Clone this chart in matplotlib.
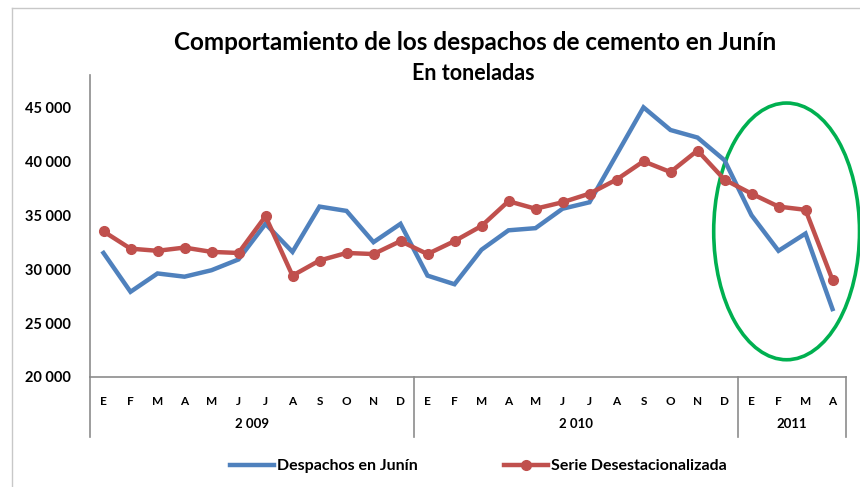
import numpy as np
import matplotlib
matplotlib.use("Agg")
import matplotlib.pyplot as plt
from matplotlib.patches import Ellipse
from matplotlib.lines import Line2D
import matplotlib.transforms as mtrans

plt.rcParams['font.family'] = ['Lato', 'DejaVu Sans']

# datos (toneladas)
meses = ['E', 'F', 'M', 'A', 'M', 'J', 'J', 'A', 'S', 'O', 'N', 'D',
         'E', 'F', 'M', 'A', 'M', 'J', 'J', 'A', 'S', 'O', 'N', 'D',
         'E', 'F', 'M', 'A']
anios = ['2 009', '2 010', '2011']
meses_por_anio = [12, 12, 4]

despachos = [31500, 27900, 29600, 29300, 29900, 30900, 34200, 31600, 35800, 35400, 32500, 34200,
             29400, 28600, 31800, 33600, 33800, 35600, 36200, 40600, 45000, 42900, 42200, 40100,
             35000, 31700, 33300, 26300]
desestacionalizada = [33500, 31900, 31700, 32000, 31600, 31500, 34900, 29400, 30800, 31500, 31400, 32600,
                      31400, 32600, 34000, 36300, 35600, 36200, 37000, 38300, 40000, 39000, 41000, 38300,
                      37000, 35800, 35500, 29000]

azul = '#4F81BD'
rojo = '#C0504D'
verde = '#00B050'
gris = '#8C8C8C'

fig = plt.figure(figsize=(8.6, 4.87), dpi=100)
ax = fig.add_axes([90 / 860, (487 - 377) / 487, 756 / 860, 302 / 487])

x = np.arange(len(meses))
ax.plot(x, despachos, color=azul, lw=3.2, solid_joinstyle='miter', label='Despachos en Junín')
ax.plot(x, desestacionalizada, color=rojo, lw=3.2, marker='o', markersize=7,
        label='Serie Desestacionalizada')

ax.set_xlim(-0.5, len(meses) - 0.5)
ax.set_ylim(20000, 48000)
ax.set_yticks(range(20000, 45001, 5000))
ax.set_yticklabels([f'{v:,}'.replace(',', ' ') for v in range(20000, 45001, 5000)],
                   fontsize=10.5, fontweight='bold')
ax.set_xticks(x)
ax.set_xticklabels(meses, fontsize=8.5, fontweight='bold')
ax.tick_params(axis='x', length=0, pad=14)
ax.tick_params(axis='y', length=0, pad=14)

for s in ['top', 'right']:
    ax.spines[s].set_visible(False)
ax.spines['left'].set_color(gris)
ax.spines['bottom'].set_color(gris)
ax.spines['left'].set_linewidth(1.2)
ax.spines['bottom'].set_linewidth(1.2)

# separadores de años y etiquetas
tr = mtrans.blended_transform_factory(ax.transData, ax.transAxes)
bordes = np.concatenate([[0], np.cumsum(meses_por_anio)]) - 0.5
for b in bordes:
    ax.add_line(Line2D([b, b], [0, -60 / 302], transform=tr, color=gris, lw=1.2, clip_on=False))
for i, a in enumerate(anios):
    cx = (bordes[i] + bordes[i + 1]) / 2
    ax.text(cx, -47 / 302, a, transform=tr, ha='center', va='center', fontsize=9.5, fontweight='bold')

# elipse verde
ax.add_patch(Ellipse((25.3, 33500), 5.4, 23800, fill=False, edgecolor=verde, lw=2.6, clip_on=False))

# títulos
fig.text(475 / 860, 1 - 43 / 487, 'Comportamiento de los despachos de cemento en Junín',
         ha='center', va='center', fontsize=17.5, fontweight='bold')
fig.text(473 / 860, 1 - 73 / 487, 'En toneladas', ha='center', va='center',
         fontsize=15.5, fontweight='bold')

# borde del gráfico
fig.add_artist(Line2D([12 / 860, 12 / 860], [0, 1 - 8 / 487], color='#C8C8C8', lw=1))
fig.add_artist(Line2D([12 / 860, 1], [1 - 8 / 487, 1 - 8 / 487], color='#C8C8C8', lw=1))

leg = fig.legend(loc='center', bbox_to_anchor=(478 / 860, 21 / 487), ncol=2, frameon=False,
                 handlelength=2.8, handletextpad=0.15, columnspacing=5.4,
                 prop={'size': 11.5, 'weight': 'bold'})

fig.savefig('out.png', dpi=100)
